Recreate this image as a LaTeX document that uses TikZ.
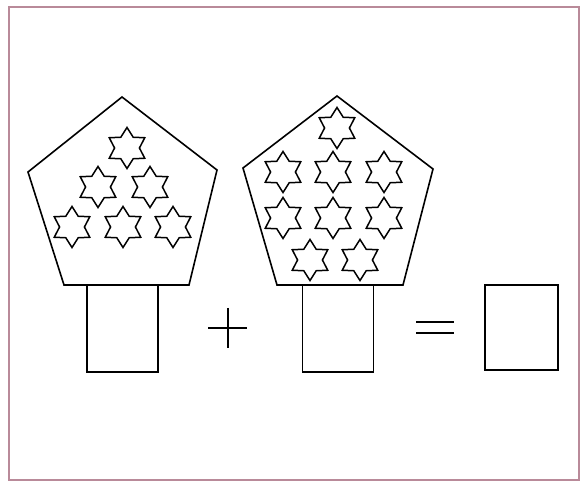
\documentclass[tikz,border=0pt]{standalone}
\usetikzlibrary{shapes.geometric}
\definecolor{framec}{HTML}{B98A99}
\begin{document}
\begin{tikzpicture}[x=1pt,y=-1pt,
  shapeline/.style={draw=black,line width=1.6pt,line join=miter},
  hexstar/.style={star,star points=6,star point ratio=1.65,minimum size=41pt,inner sep=0pt,draw=black,line width=1.5pt},
  box/.style={draw=black,line width=1.7pt,inner sep=0pt,minimum width=71pt,minimum height=87pt},
  sign/.style={draw=black,line width=1.4pt}]
\useasboundingbox (0,0) rectangle (582,484);
\fill[white] (0,0) rectangle (582,484);
\draw[framec,line width=1.6pt] (9,7) rectangle (579,480);
% pentagons
\coordinate (p1a) at (122,97); \coordinate (p1b) at (217,170); \coordinate (p1c) at (189,285);
\coordinate (p1d) at (64,285); \coordinate (p1e) at (28,172);
\draw[shapeline] (p1a) -- (p1b) -- (p1c) -- (p1d) -- (p1e) -- cycle;
\coordinate (p2a) at (337,96); \coordinate (p2b) at (433,169); \coordinate (p2c) at (403,285);
\coordinate (p2d) at (277,285); \coordinate (p2e) at (243,168);
\draw[shapeline] (p2a) -- (p2b) -- (p2c) -- (p2d) -- (p2e) -- cycle;
% stars, first pentagon
\node[hexstar] (s11) at (127,148) {};
\node[hexstar] (s12) at (98,187) {};
\node[hexstar] (s13) at (150,187) {};
\node[hexstar] (s14) at (72,227) {};
\node[hexstar] (s15) at (123,227) {};
\node[hexstar] (s16) at (173,227) {};
% stars, second pentagon
\node[hexstar] (s21) at (337,128) {};
\node[hexstar] (s22) at (283,172) {};
\node[hexstar] (s23) at (333,172) {};
\node[hexstar] (s24) at (384,172) {};
\node[hexstar] (s25) at (283,218) {};
\node[hexstar] (s26) at (333,218) {};
\node[hexstar] (s27) at (384,218) {};
\node[hexstar] (s28) at (310,260) {};
\node[hexstar] (s29) at (360,260) {};
% boxes
\node[box] (b1) at (122.5,328.5) {};
\node[box] (b2) at (338,328.5) {};
\node[box,minimum width=73pt,minimum height=85pt] (b3) at (521.5,327.5) {};
% plus and equals
\coordinate (pl) at (208,328); \coordinate (pr) at (247,328);
\coordinate (pt) at (228,308); \coordinate (pb) at (228,348);
\draw[sign] (pl) -- (pr);
\draw[sign] (pt) -- (pb);
\coordinate (e1l) at (416,322); \coordinate (e1r) at (454,322);
\coordinate (e2l) at (416,333); \coordinate (e2r) at (454,333);
\draw[sign,line width=1.7pt] (e1l) -- (e1r);
\draw[sign,line width=1.7pt] (e2l) -- (e2r);
\end{tikzpicture}
\end{document}
